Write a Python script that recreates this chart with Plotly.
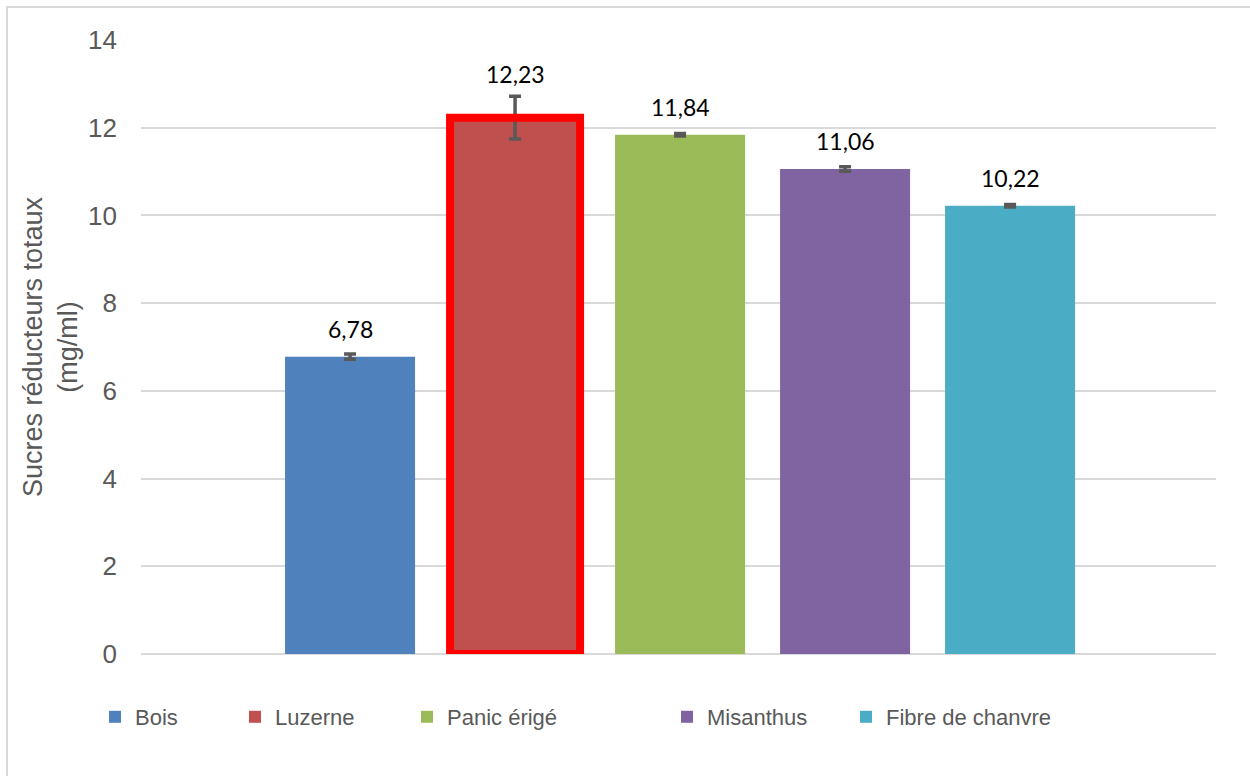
import plotly.graph_objects as go

# Données : sucres réducteurs totaux par biomasse
categories = ["Bois", "Luzerne", "Panic érigé", "Misanthus", "Fibre de chanvre"]
valeurs = [6.78, 12.23, 11.84, 11.06, 10.22]
erreurs = [0.06, 0.49, 0.03, 0.05, 0.03]
couleurs = ["#4F81BD", "#C0504D", "#9BBB59", "#8064A2", "#4BACC6"]
mise_en_avant = "Luzerne"
y_ticks = [0, 2, 4, 6, 8, 10, 12, 14]

W, H = 1250, 776
ML, MR, MT, MB = 141, 34, 40, 122
PW = W - ML - MR
PH = H - MT - MB
BAR_W = 0.788
X_RANGE = [-1.267, 5.248]

AXIS_FONT = "Liberation Sans, Arial, sans-serif"
LABEL_FONT = "Lato, Calibri, sans-serif"
GRIS = "#595959"


def px_to_paper_x(px):
    return (px - ML) / PW


def px_to_paper_y(py):
    return (H - MB - py) / PH


# text start of each legend entry (pixels)
legend_text_px = [133, 273, 445, 705, 884]

fig = go.Figure()
layout_legends = {}
for i, (nom, v, e, c) in enumerate(zip(categories, valeurs, erreurs, couleurs)):
    lg = "legend" if i == 0 else f"legend{i + 1}"
    fig.add_trace(go.Bar(
        x=[i], y=[v], width=BAR_W, name=nom,
        marker=dict(color=c, line=dict(width=0)),
        error_y=dict(type="data", array=[e], visible=True,
                     color=GRIS, thickness=3.5, width=6),
        legend=lg, hoverinfo="skip",
    ))
    layout_legends[lg] = dict(
        x=px_to_paper_x(legend_text_px[i] - 38), xanchor="left",
        y=px_to_paper_y(717), yanchor="middle",
        orientation="h", bgcolor="rgba(0,0,0,0)",
        font=dict(family=AXIS_FONT, size=22, color=GRIS),
        itemwidth=30, tracegroupgap=0,
    )

# red outline around the highlighted bar
ih = categories.index(mise_en_avant)
fig.add_trace(go.Bar(
    x=[ih], y=[valeurs[ih]], width=BAR_W, showlegend=False,
    marker=dict(color="rgba(0,0,0,0)", line=dict(color="#FF0000", width=8)),
    hoverinfo="skip",
))

# value labels above bars
for i, v in enumerate(valeurs):
    shift = 44 if categories[i] == mise_en_avant else 28
    fig.add_annotation(
        x=i, y=v, text=f"{v:.2f}".replace(".", ","), showarrow=False,
        yshift=shift, yanchor="middle",
        font=dict(family=LABEL_FONT, size=23, color="#000000"),
    )

# chart frame
fig.add_shape(type="rect", xref="paper", yref="paper",
              x0=px_to_paper_x(7), x1=px_to_paper_x(1262),
              y0=px_to_paper_y(790), y1=px_to_paper_y(7),
              line=dict(color="#D9D9D9", width=2), fillcolor="rgba(0,0,0,0)",
              layer="below")

fig.update_layout(
    width=W, height=H,
    margin=dict(l=ML, r=MR, t=MT, b=MB, autoexpand=False),
    paper_bgcolor="white", plot_bgcolor="white",
    barmode="overlay",
    showlegend=True,
    **layout_legends,
    xaxis=dict(range=X_RANGE, showticklabels=False, showgrid=False,
               zeroline=False, showline=False, ticks="", fixedrange=True),
    yaxis=dict(range=[0, 14], tickvals=y_ticks, ticks="",
               showgrid=True, gridcolor="#D9D9D9", gridwidth=1.5,
               zeroline=True, zerolinecolor="#D9D9D9", zerolinewidth=2,
               showline=False, ticklabelstandoff=23,
               tickfont=dict(family=AXIS_FONT, size=26, color=GRIS),
               title=dict(text="Sucres réducteurs totaux<br>(mg/ml)",
                          font=dict(family=AXIS_FONT, size=27, color=GRIS),
                          standoff=2),
               automargin=False),
)

fig.write_html("out.html")
